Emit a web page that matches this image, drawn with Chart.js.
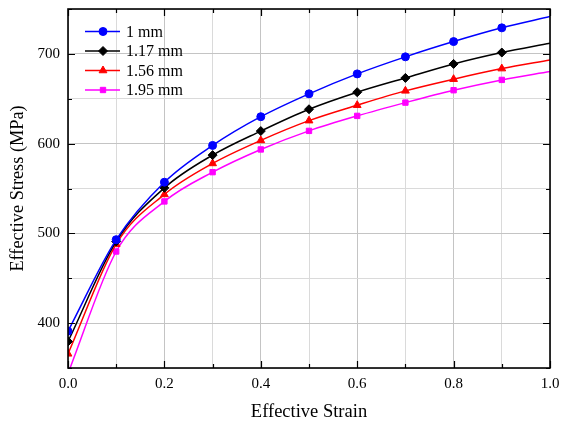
<!DOCTYPE html>
<html>
<head>
<meta charset="utf-8">
<script src="https://cdn.jsdelivr.net/npm/chart.js@4.4.1/dist/chart.umd.min.js"></script>
<style>
  html, body { margin: 0; padding: 0; background: #ffffff; }
  #wrap { width: 561px; height: 423px; position: relative; }
</style>
</head>
<body>
<div id="wrap"><canvas id="c" width="561" height="423"></canvas></div>
<script>
// Effective stress vs effective strain for four specimen sizes
const strain = [0.0, 0.1, 0.2, 0.3, 0.4, 0.5, 0.6, 0.7, 0.8, 0.9, 1.0];
const stress1mm  = [391, 493, 557, 598, 630, 655.5, 677.7, 696.7, 713.7, 729, 741.6];
const stress117mm = [379.5, 491, 550.7, 587.2, 614, 638.3, 657.3, 673.2, 688.8, 701.5, 711.9];
const stress156mm = [365.8, 488, 543.4, 577.9, 603.6, 625.6, 642.8, 658.8, 671.8, 683.6, 693.3];
const stress195mm = [344, 479.8, 535.6, 568.2, 593.5, 614.2, 630.9, 645.7, 659.5, 671, 680.3];
const seriesLabels = ['1 mm', '1.17 mm', '1.56 mm', '1.95 mm'];
const xTickLabels = ['0.0', '0.2', '0.4', '0.6', '0.8', '1.0'];
const yTickLabels = ['400', '500', '600', '700'];

const FONT = '"Liberation Serif", "Times New Roman", serif';

function toPoints(ys) {
  return strain.map((x, i) => ({ x: x, y: ys[i] }));
}
// markers on every sample except the curve end at strain 1.0
function radii(r) {
  return strain.map((x) => (x >= 0.999 ? 0 : r));
}

function makeSet(label, ys, color, style, r) {
  return {
    label: label,
    data: toPoints(ys),
    borderColor: color,
    backgroundColor: color,
    borderWidth: 1.5,
    pointStyle: style,
    pointRadius: radii(r),
    pointHoverRadius: radii(r),
    pointBorderWidth: 1,
    pointBorderColor: color,
    pointBackgroundColor: color,
    cubicInterpolationMode: 'monotone',
    fill: false
  };
}

const datasets = [
  makeSet(seriesLabels[0], stress1mm, '#0000ff', 'circle', 4),
  makeSet(seriesLabels[1], stress117mm, '#000000', 'rectRot', 4.5),
  makeSet(seriesLabels[2], stress156mm, '#ff0000', 'triangle', 4.5),
  makeSet(seriesLabels[3], stress195mm, '#ff00ff', 'rect', 3.8)
];

// inward tick marks on all four sides plus the closed frame
const framePlugin = {
  id: 'frame',
  afterDatasetsDraw(chart) {
    const ctx = chart.ctx;
    const a = chart.chartArea;
    const xs = chart.scales.x;
    const ys = chart.scales.y;
    ctx.save();
    ctx.strokeStyle = '#000';
    ctx.lineWidth = 1.2;
    ctx.beginPath();
    for (let i = 0; i <= 10; i++) {
      const v = i / 10;
      const px = Math.round(xs.getPixelForValue(v)) + 0.5;
      const len = i % 2 === 0 ? 7 : 4;
      ctx.moveTo(px, a.bottom); ctx.lineTo(px, a.bottom - len);
      ctx.moveTo(px, a.top); ctx.lineTo(px, a.top + len);
    }
    for (let v = 350; v <= 750; v += 50) {
      const py = Math.round(ys.getPixelForValue(v)) + 0.5;
      const len = v % 100 === 0 ? 7 : 4;
      ctx.moveTo(a.left, py); ctx.lineTo(a.left + len, py);
      ctx.moveTo(a.right, py); ctx.lineTo(a.right - len, py);
    }
    ctx.stroke();
    ctx.lineWidth = 1.6;
    ctx.strokeRect(a.left, a.top, a.right - a.left, a.bottom - a.top);
    ctx.restore();
  }
};

// legend drawn inside the plot area: line segment with marker, then label
const insideLegend = {
  id: 'insideLegend',
  afterDraw(chart) {
    const ctx = chart.ctx;
    const x0 = 85, x1 = 120, xm = 103, xt = 126;
    const rows = [31.5, 51, 70.5, 90];
    ctx.save();
    chart.data.datasets.forEach((ds, i) => {
      const y = rows[i];
      ctx.strokeStyle = ds.borderColor;
      ctx.lineWidth = 1.5;
      ctx.beginPath();
      ctx.moveTo(x0, y); ctx.lineTo(x1, y);
      ctx.stroke();
      ctx.fillStyle = ds.borderColor;
      ctx.lineWidth = 1;
      Chart.helpers.drawPoint(ctx, {
        pointStyle: ds.pointStyle,
        radius: ds.pointRadius[0],
        rotation: 0,
        borderWidth: 1
      }, xm, y);
      ctx.fillStyle = '#000';
      ctx.font = '16px ' + FONT;
      ctx.textBaseline = 'middle';
      ctx.textAlign = 'left';
      ctx.fillText(ds.label, xt, y + 1);
    });
    ctx.restore();
  }
};

new Chart(document.getElementById('c'), {
  type: 'line',
  data: { datasets: datasets },
  plugins: [framePlugin, insideLegend],
  options: {
    responsive: false,
    animation: false,
    events: [],
    layout: { padding: { top: 9, right: 11, left: 0, bottom: 0 } },
    plugins: {
      legend: { display: false },
      tooltip: { enabled: false }
    },
    scales: {
      x: {
        type: 'linear',
        min: 0,
        max: 1,
        afterFit(s) {
          s.height = 55;
          s.paddingLeft = 0;
          s.paddingRight = 0;
        },
        afterBuildTicks(s) {
          s.ticks = strain.map((v) => ({ value: v }));
        },
        ticks: {
          autoSkip: false,
          maxRotation: 0,
          padding: 7,
          color: '#000',
          font: { family: FONT, size: 15 },
          callback(v, i) {
            return i % 2 === 0 ? xTickLabels[i / 2] : '';
          }
        },
        grid: {
          drawTicks: false,
          color: (c) => (c.index % 2 === 0 ? '#c4c4c4' : '#dadada'),
          lineWidth: 1,
          borderDash: (c) => (c.index % 2 === 0 ? [] : [1, 2])
        },
        border: { display: false },
        title: {
          display: true,
          text: 'Effective Strain',
          color: '#000',
          font: { family: FONT, size: 18.5 },
          padding: { top: 3, bottom: 0 }
        }
      },
      y: {
        type: 'linear',
        min: 350,
        max: 750,
        afterFit(s) {
          s.width = 68;
          s.paddingTop = 0;
          s.paddingBottom = 0;
        },
        afterBuildTicks(s) {
          const t = [];
          for (let v = 350; v <= 750; v += 50) t.push({ value: v });
          s.ticks = t;
        },
        ticks: {
          autoSkip: false,
          padding: 8,
          color: '#000',
          font: { family: FONT, size: 15 },
          callback(v) {
            const k = yTickLabels.indexOf(String(v));
            return k >= 0 ? yTickLabels[k] : '';
          }
        },
        grid: {
          drawTicks: false,
          color: (c) => (c.tick && c.tick.value % 100 === 0 ? '#c4c4c4' : '#dadada'),
          lineWidth: 1,
          borderDash: (c) => (c.tick && c.tick.value % 100 === 0 ? [] : [1, 2])
        },
        border: { display: false },
        title: {
          display: true,
          text: 'Effective Stress (MPa)',
          color: '#000',
          font: { family: FONT, size: 18.3 },
          padding: { top: 7, bottom: 0 }
        }
      }
    }
  }
});
</script>
</body>
</html>
